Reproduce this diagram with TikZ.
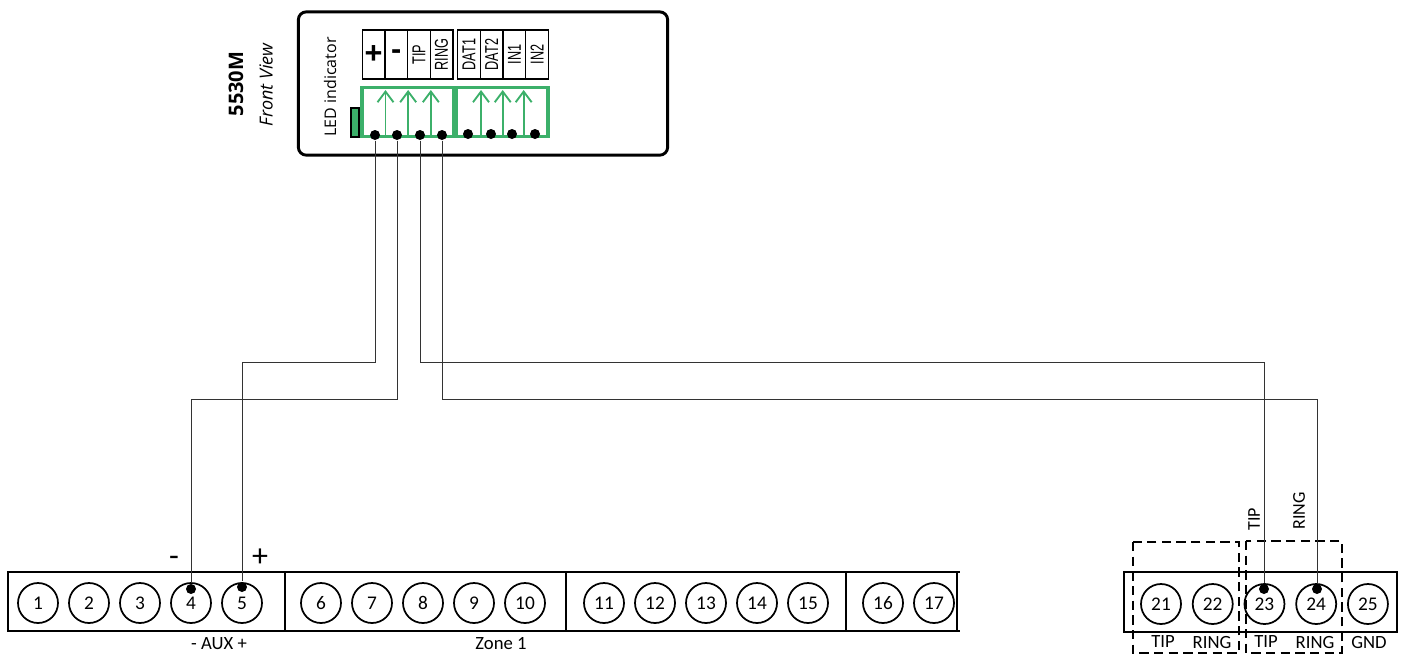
\documentclass[tikz,border=0pt]{standalone}
\usepackage{fontspec}
\usepackage{tikz}
\usetikzlibrary{arrows.meta}
\setmainfont{Carlito}
\newfontfamily\headfont{Open Sans}
\newfontfamily\cellfont{Liberation Sans}
\definecolor{pingreen}{HTML}{3CB06A}
\newcommand{\celltext}[1]{\rotatebox{90}{\cellfont\fontsize{14}{14}\selectfont\scalebox{.68}[1]{#1}}}
\newcommand{\cellsign}[1]{{\cellfont\fontsize{23}{23}\selectfont\bfseries #1}}

\begin{document}
\begin{tikzpicture}[x=0.75pt,y=-0.75pt,thick,
  term node/.style={circle,draw,line width=1.3pt,minimum size=30pt,inner sep=0pt,font=\fontsize{14.5}{14.5}\selectfont},
  cell node/.style={draw,line width=1pt,minimum width=17pt,minimum height=36.75pt,inner sep=0pt},
  pin dot/.style={circle,fill=black,minimum size=7.5pt,inner sep=0pt},
  green block/.style={draw=pingreen,line width=2.4pt,minimum height=36.5pt,inner sep=0pt},
  pin arrow/.style={draw=pingreen,line width=1.4pt,-{Straight Barb[length=8pt,width=12pt,line width=1.4pt]}},
  wire/.style={draw=black!80,line width=0.75pt},
  strip/.style={draw,line width=1.9pt},
  zone box/.style={draw,line width=1.9pt,dash pattern=on 7pt off 4pt},
  strip text/.style={font=\fontsize{14}{14}\selectfont,inner sep=0pt}]

  \useasboundingbox (0,0) rectangle (1404,654);

  \node[draw,line width=2.2pt,rounded corners=6pt,minimum width=277pt,minimum height=107.5pt,inner sep=0pt] (front) at (483,83.5) {};
  \node[rotate=90,font=\headfont\bfseries\fontsize{15}{15}\selectfont] (model) at (236,84) {5530M};
  \node[rotate=90,font=\headfont\itshape\fontsize{13.5}{13.5}\selectfont] (view) at (266,85) {Front View};
  \node[rotate=90,font=\headfont\fontsize{12}{12}\selectfont] (ledtext) at (330,87) {LED indicator};
  \node[draw,fill=pingreen,line width=1pt,minimum width=6pt,minimum height=21.75pt,inner sep=0pt] (led) at (355,122.5) {};

  \node[cell node] (plus) at (373.5,54.5) {\cellsign{\raisebox{-1.5pt}{+}}};
  \node[cell node,node distance=17pt] (minus) [right of=plus] {\cellsign{\raisebox{-3pt}{-}}};
  \node[cell node,node distance=17pt] (tip) [right of=minus] {\celltext{TIP}};
  \node[cell node,node distance=17pt] (ring) [right of=tip] {\celltext{RING}};
  \node[cell node] (dat1) at (469,54.5) {\celltext{DAT1}};
  \node[cell node,node distance=17pt] (dat2) [right of=dat1] {\celltext{DAT2}};
  \node[cell node,node distance=17pt] (in1) [right of=dat2] {\celltext{IN1}};
  \node[cell node,node distance=17pt] (in2) [right of=in1] {\celltext{IN2}};

  \node[green block,minimum width=69pt] (block1) at (408,112) {};
  \node[green block,minimum width=69pt] (block2) at (502,112) {};

  \draw[pin arrow] (plus.south east |- block1.south) -- (plus.south east |- 0,90);
  \draw[pin arrow] (minus.south east |- block1.south) -- (minus.south east |- 0,90);
  \draw[pin arrow] (tip.south east |- block1.south) -- (tip.south east |- 0,90);
  \draw[pin arrow] (dat1.south east |- block2.south) -- (dat1.south east |- 0,90);
  \draw[pin arrow] ([xshift=-0.7pt]dat2.south east |- block2.south) -- ([xshift=-0.7pt]dat2.south east |- 0,90);
  \draw[pin arrow] ([xshift=-2pt]in1.south east |- block2.south) -- ([xshift=-2pt]in1.south east |- 0,90);

  \node[pin dot] (pplus) at (375,135) {};
  \node[pin dot] (pminus) at (397,135) {};
  \node[pin dot] (ptip) at (420,135) {};
  \node[pin dot] (pring) at (442,135) {};
  \node[pin dot] (pdat1) at (468,134) {};
  \node[pin dot] (pdat2) at (491,134) {};
  \node[pin dot] (pin1) at (512,134) {};
  \node[pin dot] (pin2) at (535,134) {};

  \draw[strip] (8,572) rectangle (285,631);
  \draw[strip] (285,572) rectangle (566,631);
  \draw[strip] (566,572) rectangle (846,631);
  \draw[strip] (846,572) rectangle (957,631);
  \draw[strip] (957,572) -- (960,572) (957,631) -- (960,631);
  \draw[strip] (1124,572) rectangle (1397,632);

  \node[term node] (1) at (38,603) {1};
  \node[term node,node distance=38.25pt] (2) [right of=1] {2};
  \node[term node,node distance=38.25pt] (3) [right of=2] {3};
  \node[term node,node distance=38.25pt] (4) [right of=3] {4};
  \node[term node,node distance=38.25pt] (5) [right of=4] {5};
  \node[term node] (6) at (321,603) {6};
  \node[term node,node distance=38.25pt] (7) [right of=6] {7};
  \node[term node,node distance=38.25pt] (8) [right of=7] {8};
  \node[term node,node distance=38.25pt] (9) [right of=8] {9};
  \node[term node,node distance=38.25pt] (10) [right of=9] {10};
  \node[term node] (11) at (604,603) {11};
  \node[term node,node distance=38.25pt] (12) [right of=11] {12};
  \node[term node,node distance=38.25pt] (13) [right of=12] {13};
  \node[term node,node distance=38.25pt] (14) [right of=13] {14};
  \node[term node,node distance=38.25pt] (15) [right of=14] {15};
  \node[term node] (16) at (883,603) {16};
  \node[term node,node distance=38.25pt] (17) [right of=16] {17};
  \node[term node] (21) at (1161,604) {21};
  \node[term node,node distance=38.8pt] (22) [right of=21] {22};
  \node[term node,node distance=38.8pt] (23) [right of=22] {23};
  \node[term node,node distance=38.8pt] (24) [right of=23] {24};
  \node[term node,node distance=38.8pt] (25) [right of=24] {25};

  \node[pin dot] (t4) at (191,589) {};
  \node[pin dot] (t5) at (242,587) {};
  \node[pin dot] (t23) at (1264,589) {};
  \node[pin dot] (t24) at (1317,589) {};

  \draw[zone box] (1133,542) rectangle (1239,653);
  \draw[zone box] (1246,541) rectangle (1342,653);

  \coordinate (high) at (0,362);
  \coordinate (low) at (0,399);
  \draw[wire] (pplus) -- (pplus |- high) -| (t5);
  \draw[wire] (pminus) -- (pminus |- low) -| (t4);
  \draw[wire] (ptip) -- (ptip |- high) -| (t23);
  \draw[wire] (pring) -- (pring |- low) -| (t24);

  \node[font=\fontsize{24}{24}\selectfont] (minussign) at (174,561) {-};
  \node[font=\fontsize{24}{24}\selectfont] (plussign) at (260,558) {+};
  \node[strip text] (aux) at (219,644) {- AUX +};
  \node[strip text] (zone) at (501,644) {Zone 1};
  \node[strip text] (tip21) at (1163,642) {TIP};
  \node[strip text] (ring22) at (1212,642) {RING};
  \node[strip text] (tip23) at (1266,642) {TIP};
  \node[strip text] (ring24) at (1315,642) {RING};
  \node[strip text] (gnd) at (1369,642) {GND};
  \node[strip text,rotate=90,font=\fontsize{13.5}{13.5}\selectfont] (tipwire) at (1254,519) {TIP};
  \node[strip text,rotate=90,font=\fontsize{13.5}{13.5}\selectfont] (ringwire) at (1299,511) {RING};

\end{tikzpicture}
\end{document}
